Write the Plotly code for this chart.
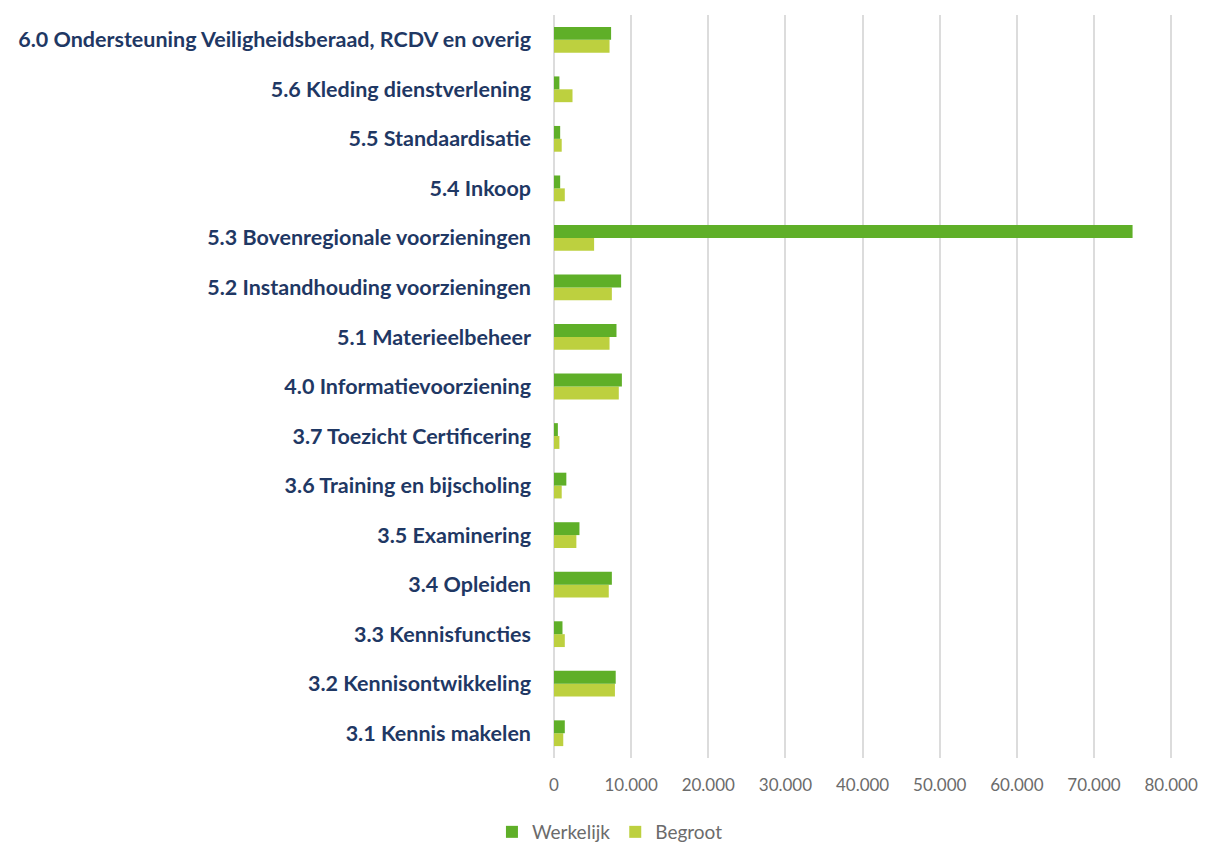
import plotly.graph_objects as go

categories = [
    "3.1 Kennis makelen",
    "3.2 Kennisontwikkeling",
    "3.3 Kennisfuncties",
    "3.4 Opleiden",
    "3.5 Examinering",
    "3.6 Training en bijscholing",
    "3.7 Toezicht Certificering",
    "4.0 Informatievoorziening",
    "5.1 Materieelbeheer",
    "5.2 Instandhouding voorzieningen",
    "5.3 Bovenregionale voorzieningen",
    "5.4 Inkoop",
    "5.5 Standaardisatie",
    "5.6 Kleding dienstverlening",
    "6.0 Ondersteuning Veiligheidsberaad, RCDV en overig",
]
werkelijk = [1400, 8000, 1100, 7500, 3300, 1600, 500, 8800, 8100, 8700, 75000, 800, 800, 700, 7400]
begroot = [1200, 7900, 1400, 7100, 2900, 1000, 700, 8400, 7200, 7500, 5200, 1400, 1000, 2400, 7200]

tick_vals = [0, 10000, 20000, 30000, 40000, 50000, 60000, 70000, 80000]
tick_text = ["0", "10.000", "20.000", "30.000", "40.000", "50.000", "60.000", "70.000", "80.000"]

fig = go.Figure()
fig.add_trace(go.Bar(y=categories, x=begroot, name="Begroot", orientation="h",
                     marker=dict(color="#BDD03F", line=dict(width=0)), legendrank=2))
fig.add_trace(go.Bar(y=categories, x=werkelijk, name="Werkelijk", orientation="h",
                     marker=dict(color="#5FAF28", line=dict(width=0)), legendrank=1))

fig.update_layout(
    width=1192, height=834,
    barmode="group", bargap=0.48, bargroupgap=0,
    plot_bgcolor="white", paper_bgcolor="white",
    margin=dict(l=546, r=25, t=7, b=84, autoexpand=False),
    font=dict(family="Lato", color="#595959"),
    xaxis=dict(range=[0, 80500], tickvals=tick_vals, ticktext=tick_text,
               showgrid=True, gridcolor="#DCDCDC", gridwidth=2,
               zeroline=True, zerolinecolor="#DCDCDC", zerolinewidth=2,
               tickfont=dict(size=17, color="#6b6b6b", family="Lato"),
               ticklabeloverflow="allow",
               ticks="", ticklabelstandoff=15, fixedrange=True),
    yaxis=dict(tickfont=dict(size=21.5, color="#1F3864", family="Lato", weight="bold"),
               ticks="", ticklabelstandoff=22, showgrid=False, fixedrange=True),
    legend=dict(orientation="h", xref="container", yref="container",
                x=0.406, y=0.012, xanchor="left", yanchor="middle",
                font=dict(size=19, color="#6b6b6b", family="Lato")),
    showlegend=True,
)

fig.write_html("out.html")
